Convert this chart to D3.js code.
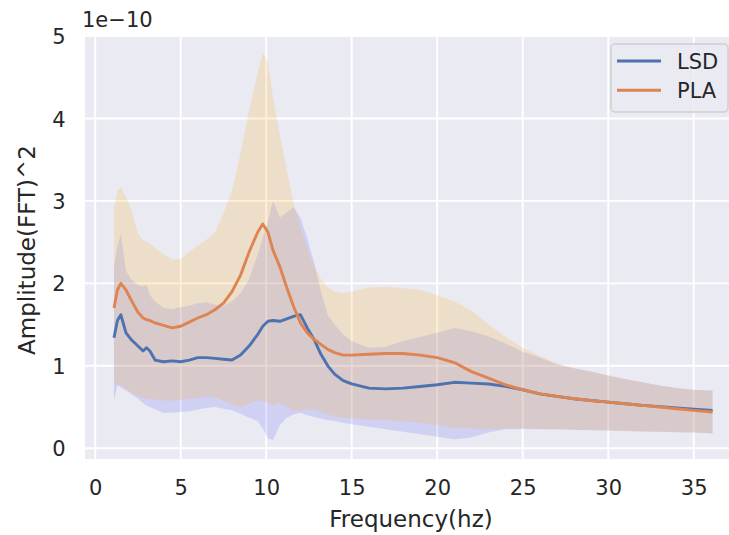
<!DOCTYPE html>
<html>
<head>
<meta charset="utf-8">
<script src="https://cdn.jsdelivr.net/npm/d3@7"></script>
<style>
  html, body { margin: 0; padding: 0; background: #ffffff; }
  svg { display: block; }
  text { font-family: "DejaVu Sans", sans-serif; fill: #262626; }
</style>
</head>
<body>
<svg id="chart" width="729" height="535"></svg>
<script>
// ---- data (amplitude in units of 1e-10) ----
const freq = [1.1, 1.3, 1.5, 1.8, 2.1, 2.5, 2.8, 3.0, 3.2, 3.5, 4.0, 4.5, 5.0, 5.5, 6.0, 6.5, 7.0, 7.5, 8.0, 8.5,
  9.0, 9.5, 9.8, 10.1, 10.4, 10.8, 11.2, 11.6, 12.0, 12.4, 12.8, 13.2, 13.6, 14.0, 14.5, 15.0, 16.0, 17.0, 18.0, 19.0,
  20.0, 21.0, 22.0, 23.0, 24.0, 25.0, 26.0, 27.0, 28.0, 29.0, 30.0, 31.0, 32.0, 33.0, 34.0, 35.0, 36.1];

const lsdMean = [1.34, 1.55, 1.62, 1.40, 1.32, 1.24, 1.18, 1.22, 1.18, 1.07, 1.05, 1.06, 1.05, 1.07, 1.10, 1.10, 1.09, 1.08, 1.07, 1.13,
  1.24, 1.38, 1.48, 1.54, 1.55, 1.54, 1.57, 1.60, 1.62, 1.46, 1.32, 1.14, 1.00, 0.90, 0.82, 0.78, 0.73, 0.72, 0.73, 0.75,
  0.77, 0.80, 0.79, 0.78, 0.75, 0.71, 0.66, 0.63, 0.60, 0.58, 0.56, 0.54, 0.52, 0.505, 0.49, 0.475, 0.46];
const lsdLow = [0.58, 0.76, 0.74, 0.70, 0.66, 0.60, 0.55, 0.52, 0.50, 0.47, 0.43, 0.43, 0.44, 0.45, 0.47, 0.49, 0.50, 0.48, 0.46, 0.42,
  0.37, 0.33, 0.24, 0.12, 0.10, 0.28, 0.37, 0.41, 0.43, 0.40, 0.38, 0.36, 0.34, 0.33, 0.31, 0.29, 0.26, 0.23, 0.20, 0.17,
  0.14, 0.11, 0.13, 0.19, 0.23, 0.235, 0.23, 0.23, 0.225, 0.22, 0.215, 0.21, 0.205, 0.20, 0.195, 0.19, 0.18];
const lsdHigh = [2.20, 2.45, 2.60, 2.15, 2.05, 1.98, 1.96, 1.98, 1.86, 1.78, 1.70, 1.69, 1.71, 1.73, 1.76, 1.77, 1.74, 1.73, 1.78, 1.88,
  2.05, 2.35, 2.55, 2.75, 3.00, 2.80, 2.86, 2.92, 2.80, 2.55, 2.25, 1.90, 1.62, 1.50, 1.38, 1.30, 1.22, 1.23, 1.30, 1.35,
  1.40, 1.46, 1.42, 1.36, 1.27, 1.17, 1.10, 1.02, 0.97, 0.93, 0.88, 0.84, 0.80, 0.76, 0.73, 0.71, 0.70];

const plaMean = [1.70, 1.92, 2.00, 1.92, 1.80, 1.65, 1.58, 1.56, 1.55, 1.52, 1.49, 1.46, 1.48, 1.53, 1.58, 1.62, 1.68, 1.76, 1.90, 2.10,
  2.38, 2.62, 2.72, 2.62, 2.40, 2.20, 1.95, 1.72, 1.52, 1.40, 1.32, 1.26, 1.20, 1.16, 1.13, 1.13, 1.14, 1.15, 1.15, 1.13,
  1.10, 1.04, 0.93, 0.85, 0.77, 0.71, 0.66, 0.63, 0.60, 0.58, 0.56, 0.54, 0.52, 0.50, 0.48, 0.46, 0.44];
const plaLow = [0.80, 0.78, 0.76, 0.72, 0.68, 0.64, 0.61, 0.60, 0.595, 0.59, 0.58, 0.58, 0.59, 0.60, 0.61, 0.63, 0.62, 0.58, 0.53, 0.50,
  0.54, 0.58, 0.58, 0.55, 0.52, 0.55, 0.50, 0.45, 0.46, 0.47, 0.47, 0.44, 0.41, 0.39, 0.37, 0.36, 0.35, 0.34, 0.33, 0.31,
  0.28, 0.25, 0.24, 0.23, 0.24, 0.24, 0.235, 0.23, 0.225, 0.22, 0.215, 0.21, 0.205, 0.20, 0.195, 0.19, 0.18];
const plaHigh = [2.90, 3.12, 3.17, 3.05, 2.90, 2.60, 2.52, 2.51, 2.48, 2.43, 2.35, 2.29, 2.30, 2.38, 2.46, 2.53, 2.62, 2.85, 3.12, 3.58,
  4.10, 4.55, 4.80, 4.68, 4.25, 3.80, 3.38, 2.98, 2.68, 2.42, 2.21, 2.05, 1.95, 1.90, 1.88, 1.90, 1.95, 1.96, 1.94, 1.92,
  1.86, 1.78, 1.67, 1.50, 1.35, 1.22, 1.12, 1.03, 0.97, 0.93, 0.89, 0.84, 0.80, 0.76, 0.73, 0.71, 0.70];

const xTicks = [0, 5, 10, 15, 20, 25, 30, 35];
const yTicks = [0, 1, 2, 3, 4, 5];
const seriesNames = ["LSD", "PLA"];
const lineColors = ["#4c72b0", "#dd8452"];
const bandColors = ["#0000ff", "#ffa500"];

// ---- layout ----
const svg = d3.select("#chart");
const plot = { left: 85, top: 36, right: 737, bottom: 459 };

const x = d3.scaleLinear().domain([-0.596, 37.53]).range([plot.left, plot.right]);
const y = d3.scaleLinear().domain([-0.13, 5.0]).range([plot.bottom, plot.top]);

svg.append("defs").append("clipPath").attr("id", "clip")
  .append("rect").attr("x", plot.left).attr("y", plot.top)
  .attr("width", plot.right - plot.left).attr("height", plot.bottom - plot.top);

svg.append("rect").attr("x", plot.left).attr("y", plot.top)
  .attr("width", plot.right - plot.left).attr("height", plot.bottom - plot.top)
  .attr("fill", "#eaeaf2");

// grid
const grid = svg.append("g").attr("clip-path", "url(#clip)");
grid.selectAll(".gx").data(xTicks).join("line")
  .attr("x1", d => x(d)).attr("x2", d => x(d))
  .attr("y1", plot.top).attr("y2", plot.bottom)
  .attr("stroke", "#ffffff").attr("stroke-width", 1.9);
grid.selectAll(".gy").data(yTicks).join("line")
  .attr("y1", d => y(d)).attr("y2", d => y(d))
  .attr("x1", plot.left).attr("x2", plot.right)
  .attr("stroke", "#ffffff").attr("stroke-width", 1.9);

// axes
const xAxis = svg.append("g").attr("transform", `translate(0,${plot.bottom})`)
  .call(d3.axisBottom(x).tickValues(xTicks).tickFormat(d3.format("d")).tickSize(0).tickPadding(21));
const yAxis = svg.append("g").attr("transform", `translate(${plot.left},0)`)
  .call(d3.axisLeft(y).tickValues(yTicks).tickFormat(d3.format("d")).tickSize(0).tickPadding(19.5));
[xAxis, yAxis].forEach(a => {
  a.select(".domain").remove();
  a.selectAll("text").attr("font-size", 21).attr("font-family", "DejaVu Sans").attr("fill", "#262626");
});
yAxis.selectAll("text").attr("dy", "0.36em");

// data layer
const idx = d3.range(freq.length);
const data = [
  { mean: lsdMean, low: lsdLow, high: lsdHigh },
  { mean: plaMean, low: plaLow, high: plaHigh }
];
const layer = svg.append("g").attr("clip-path", "url(#clip)");

const bandOpacity = [0.11, 0.17];
data.forEach((s, k) => {
  const area = d3.area().x(i => x(freq[i])).y0(i => y(s.low[i])).y1(i => y(s.high[i]));
  layer.append("path").datum(idx).attr("d", area)
    .attr("fill", bandColors[k]).attr("fill-opacity", bandOpacity[k]);
});
data.forEach((s, k) => {
  const line = d3.line().x(i => x(freq[i])).y(i => y(s.mean[i]));
  layer.append("path").datum(idx).attr("d", line)
    .attr("fill", "none").attr("stroke", lineColors[k]).attr("stroke-width", 2.9)
    .attr("stroke-linejoin", "round");
});

// offset text & labels
svg.append("text").attr("x", 82).attr("y", 27).attr("font-size", 21).text("1e\u221210");
svg.append("text").attr("x", 411).attr("y", 527).attr("text-anchor", "middle")
  .attr("font-size", 23).text("Frequency(hz)");
svg.append("text").attr("transform", "translate(35,250) rotate(-90)").attr("text-anchor", "middle")
  .attr("font-size", 23).text("Amplitude(FFT)^2");

// legend
const lg = svg.append("g");
lg.append("rect").attr("x", 611).attr("y", 44).attr("width", 117).attr("height", 68).attr("rx", 4)
  .attr("fill", "#eaeaf2").attr("fill-opacity", 0.8).attr("stroke", "#d0d0d0").attr("stroke-width", 1.5);
const rowsY = [61, 90.3];
seriesNames.forEach((name, k) => {
  lg.append("line").attr("x1", 617).attr("x2", 661).attr("y1", rowsY[k]).attr("y2", rowsY[k])
    .attr("stroke", lineColors[k]).attr("stroke-width", 2.9);
  lg.append("text").attr("x", 677).attr("y", rowsY[k] + 7.65).attr("font-size", 21).text(name);
});
</script>
</body>
</html>
